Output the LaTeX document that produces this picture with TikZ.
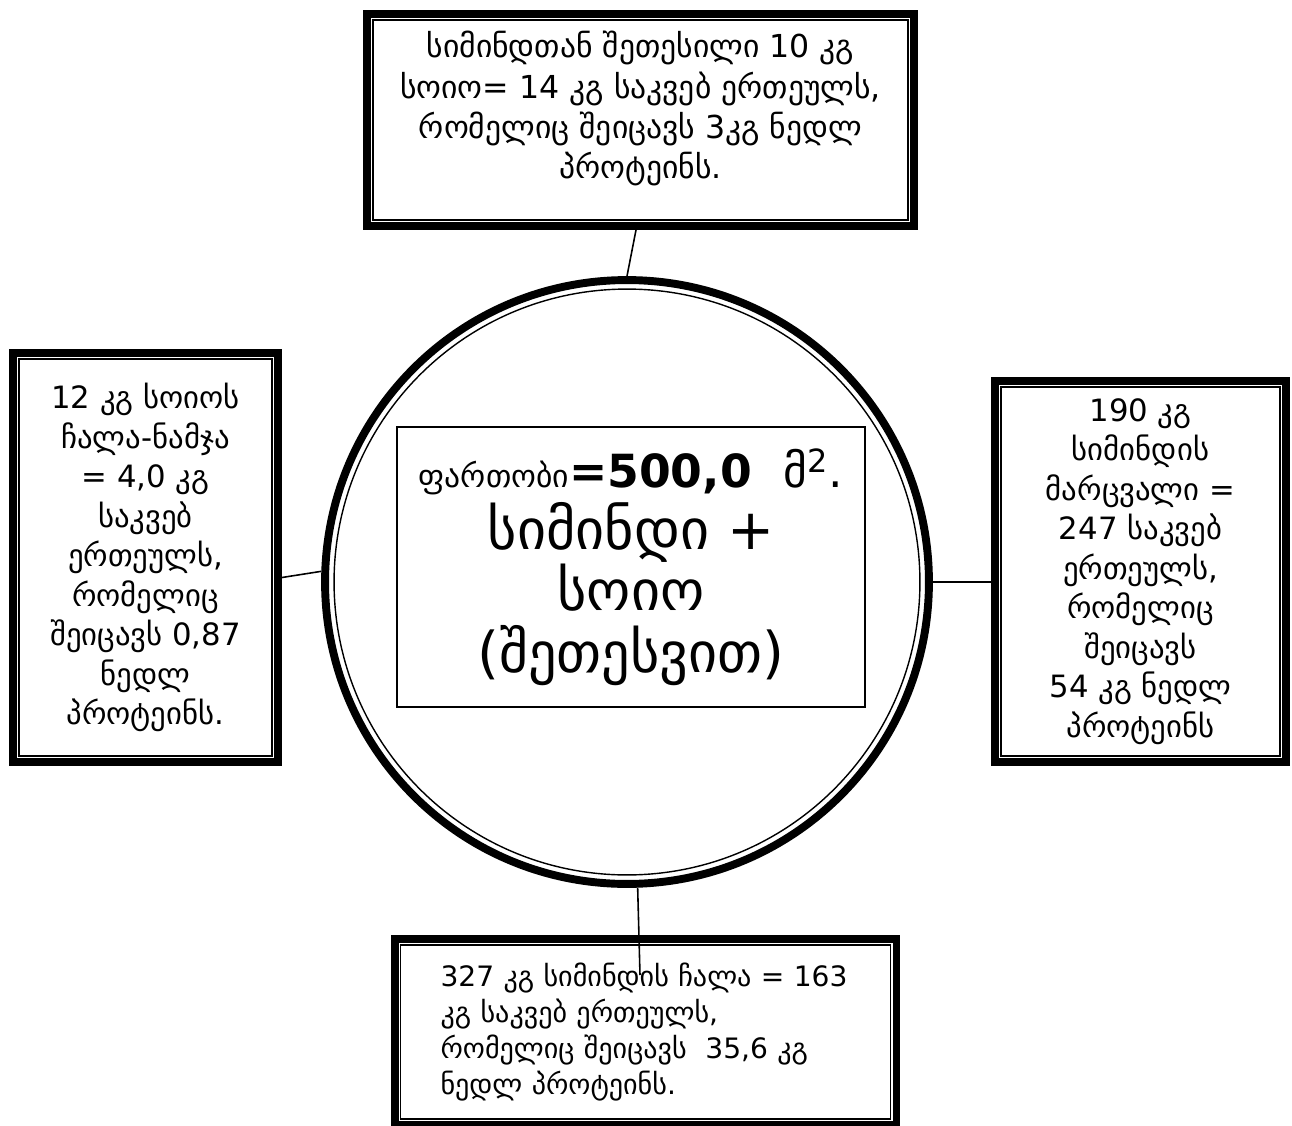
\documentclass[tikz,border=0pt]{standalone}
\usepackage{fontspec}
\setmainfont{DejaVu Sans}
\usetikzlibrary{positioning,calc}

\begin{document}
\begin{tikzpicture}[x=0.02cm, y=-0.02cm,
    infobox/.style={rectangle, draw, line width=0.8pt, outer sep=0.2cm, font=\fontsize{17.5}{22.5}\selectfont},
    frame/.style={draw, line width=4.5pt},
    link/.style={draw, line width=0.9pt}]

    \useasboundingbox (0,0) rectangle (1292,1126);

    % middle: field with the title
    \node[circle, draw, line width=0.8pt, minimum size=11.72cm, outer sep=0.26cm] (field) at (627,582) {};
    \draw[frame] (field.center) circle[radius=6.04cm];
    \node[rectangle, draw, line width=0.8pt, minimum width=9.36cm, minimum height=5.6cm, align=center,
        font=\fontsize{32}{35}\selectfont] (title) at (631,567)
        {{\fontsize{18}{22}\selectfont ფართობი}{\fontsize{26}{30}\selectfont\bfseries=500,0~~}{\fontsize{26}{30}\selectfont მ\textsuperscript{2}.}\\
         სიმინდი +\\ სოიო\\ (შეთესვით)};

    % the four boxes
    \node[infobox, font=\fontsize{18}{23}\selectfont, minimum width=10.7cm, minimum height=4cm, text depth=0.6cm, align=center] (seedbox) at (640.5,120)
        {სიმინდთან შეთესილი 10 კგ\\ სოიო= 14 კგ საკვებ ერთეულს,\\ რომელიც შეიცავს 3კგ ნედლ\\ პროტეინს.};
    \node[infobox, minimum width=5.06cm, minimum height=7.94cm, align=center] (sojabox) at (145.5,557.5)
        {12 კგ სოიოს\\ ჩალა-ნამჯა\\ = 4,0 კგ\\ საკვებ\\ ერთეულს,\\ რომელიც\\ შეიცავს 0,87\\ ნედლ\\ პროტეინს.};
    \node[infobox, minimum width=5.58cm, minimum height=7.38cm, align=center] (grainbox) at (1140.5,571.5)
        {190 კგ\\ სიმინდის\\ მარცვალი =\\ 247 საკვებ\\ ერთეულს,\\ რომელიც\\ შეიცავს\\ 54 კგ ნედლ\\ პროტეინს};
    \node[infobox, font=\fontsize{16}{20.5}\selectfont, minimum height=3.48cm, inner xsep=0.8cm, text width=8.2cm, align=left] (strawbox) at (645.5,1032)
        {327 კგ სიმინდის ჩალა = 163\\ კგ საკვებ ერთეულს,\\ რომელიც შეიცავს~~35,6 კგ\\ ნედლ პროტეინს.};

    \foreach \b in {seedbox,sojabox,grainbox,strawbox}
        \draw[frame] ([xshift=0.08cm,yshift=0.08cm]\b.south west) rectangle ([xshift=-0.08cm,yshift=-0.08cm]\b.north east);

    % connectors
    \draw[link] ([xshift=-0.09cm]seedbox.south) -- (field.north);
    \draw[link] ([yshift=-0.4cm]sojabox.east) -- (field.178.5);
    \draw[link] (field.0.7) -- (field.0.7 -| grainbox.west);
    \coordinate (strawend) at (640,975);
    \draw[link] (field.272) -- (strawend);

\end{tikzpicture}
\end{document}
